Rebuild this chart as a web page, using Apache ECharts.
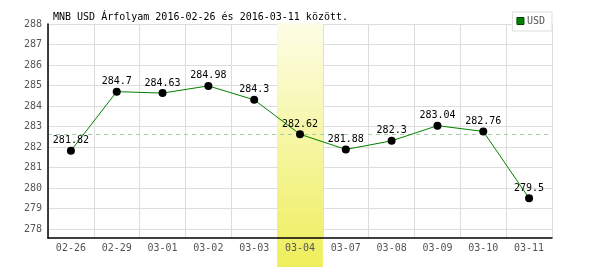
<!DOCTYPE html>
<html><head><meta charset="utf-8">
<script src="https://cdn.jsdelivr.net/npm/echarts@6/dist/echarts.min.js"></script>
<style>html,body{margin:0;padding:0;background:#fff}#c{width:600px;height:270px}</style>
</head><body><div id="c"></div>
<script>
const categories = ['02-26','02-29','03-01','03-02','03-03','03-04','03-07','03-08','03-09','03-10','03-11'];
const usdValues = [281.82, 284.7, 284.63, 284.98, 284.3, 282.62, 281.88, 282.3, 283.04, 282.76, 279.5];
const yTicks = [278, 279, 280, 281, 282, 283, 284, 285, 286, 287, 288];
const highlightIndex = 5;
const referenceValue = 282.62;
const titleText = 'MNB USD Árfolyam 2016-02-26 és 2016-03-11 között.';

const font = 'DejaVu Sans Mono';
const band = categories.map((c, i) => i === highlightIndex ? 1 : '-');
const chart = echarts.init(document.getElementById('c'), null, {renderer: 'canvas'});
const gridPos = {left: 48, right: 48, top: 24, bottom: 32};
chart.setOption({
  animation: false,
  title: {text: titleText, left: 53, top: 12, padding: 0,
    textStyle: {fontFamily: font, fontSize: 10, fontWeight: 'normal', color: '#000'}},
  legend: {right: 48, top: 12, orient: 'horizontal', padding: [4, 7, 5, 4],
    borderColor: '#ddd', borderWidth: 1, backgroundColor: '#fff',
    itemWidth: 7, itemHeight: 7, itemGap: 0,
    textStyle: {fontFamily: font, fontSize: 10, color: '#555', padding: [0, 0, 0, -2]},
    data: [{name: 'USD', icon: 'rect', itemStyle: {color: '#008000', borderColor: '#004000', borderWidth: 1}}]},
  grid: [
    Object.assign({}, gridPos),
    {left: 48, right: 48, top: 23, bottom: 3},
    Object.assign({}, gridPos)
  ],
  xAxis: [
    {gridIndex: 0, type: 'category', data: categories, boundaryGap: true, z: 0,
      axisLine: {show: false}, axisTick: {show: false}, axisLabel: {show: false},
      splitLine: {show: true, interval: 0, lineStyle: {color: '#ddd', width: 1}}},
    {gridIndex: 1, type: 'category', data: categories, boundaryGap: true, show: false},
    {gridIndex: 2, type: 'category', data: categories, boundaryGap: true, z: 3,
      axisLine: {show: true, lineStyle: {color: '#000', width: 1.5}}, axisTick: {show: false},
      splitLine: {show: false},
      axisLabel: {interval: 0, margin: 5, fontFamily: font, fontSize: 10, color: '#555'}}
  ],
  yAxis: [
    {gridIndex: 0, type: 'value', min: 277.56, max: 288, z: 0,
      axisLine: {show: false}, axisLabel: {show: false},
      axisTick: {show: false, customValues: yTicks},
      splitLine: {show: true, lineStyle: {color: '#ddd', width: 1}}},
    {gridIndex: 1, type: 'value', min: 0, max: 1, show: false},
    {gridIndex: 2, type: 'value', min: 277.56, max: 288, z: 3,
      axisLine: {show: true, lineStyle: {color: '#000', width: 1.5}},
      axisTick: {show: false, customValues: yTicks},
      splitLine: {show: false},
      axisLabel: {customValues: yTicks, margin: 6, fontFamily: font, fontSize: 10, color: '#555'}}
  ],
  series: [
    {type: 'bar', xAxisIndex: 1, yAxisIndex: 1, data: band, barWidth: '100%', z: 1,
      silent: true, legendHoverLink: false,
      itemStyle: {color: new echarts.graphic.LinearGradient(0, 0, 0, 1, [
        {offset: 0, color: '#fdfde6'}, {offset: 1, color: '#eeee5c'}])}},
    {name: 'USD', type: 'line', xAxisIndex: 2, yAxisIndex: 2, data: usdValues, z: 5,
      symbol: 'circle', symbolSize: 8,
      lineStyle: {color: '#008000', width: 1},
      itemStyle: {color: '#000'},
      label: {show: true, position: 'top', distance: 1, fontFamily: font, fontSize: 10, color: '#000'},
      markLine: {silent: true, symbol: 'none', label: {show: false}, z: 2,
        lineStyle: {color: '#a8cca8', type: [4, 4], width: 1},
        data: [{yAxis: referenceValue}]}}
  ]
});
</script></body></html>
